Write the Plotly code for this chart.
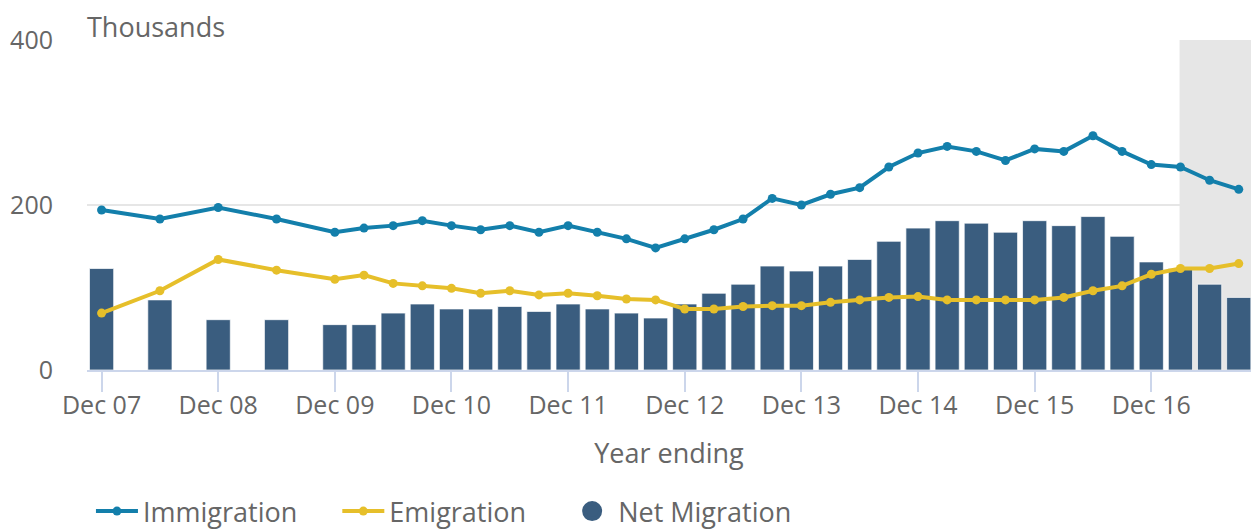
import plotly.graph_objects as go

# All quarters shown on the axis (year ending)
quarters = []
for yr in range(7, 18):
    for m in ["Mar", "Jun", "Sep", "Dec"]:
        if yr == 7 and m != "Dec":
            continue
        if yr == 17 and m == "Dec":
            continue
        quarters.append(f"{m} {yr:02d}")

periods = ["Dec 07", "Jun 08", "Dec 08", "Jun 09", "Dec 09",
           "Mar 10", "Jun 10", "Sep 10", "Dec 10",
           "Mar 11", "Jun 11", "Sep 11", "Dec 11",
           "Mar 12", "Jun 12", "Sep 12", "Dec 12",
           "Mar 13", "Jun 13", "Sep 13", "Dec 13",
           "Mar 14", "Jun 14", "Sep 14", "Dec 14",
           "Mar 15", "Jun 15", "Sep 15", "Dec 15",
           "Mar 16", "Jun 16", "Sep 16", "Dec 16",
           "Mar 17", "Jun 17", "Sep 17"]

immigration = [194, 183, 197, 183, 167,
               172, 175, 181, 175,
               170, 175, 167, 175,
               167, 159, 148, 159,
               170, 183, 208, 200,
               213, 221, 246, 263,
               271, 265, 254, 268,
               265, 284, 265, 249,
               246, 230, 219]

emigration = [69, 96, 134, 121, 110,
              115, 105, 102, 99,
              93, 96, 91, 93,
              90, 86, 85, 74,
              74, 77, 78, 78,
              82, 85, 88, 89,
              85, 85, 85, 85,
              88, 96, 102, 116,
              123, 123, 129]

net_migration = [123, 85, 61, 61, 55,
                 55, 69, 80, 74,
                 74, 77, 71, 80,
                 74, 69, 63, 80,
                 93, 104, 126, 120,
                 126, 134, 156, 172,
                 181, 178, 167, 181,
                 175, 186, 162, 131,
                 123, 104, 88]

tick_labels = ["Dec 07", "Dec 08", "Dec 09", "Dec 10", "Dec 11",
               "Dec 12", "Dec 13", "Dec 14", "Dec 15", "Dec 16"]
y_ticks = [0, 200, 400]

BLUE = "#137fab"
YELLOW = "#e6bf2a"
NAVY = "#3a5d7f"
TXT = "#666666"
FONT = "Open Sans"
PAD = "\u00a0" * 5  # spacing between legend items

fig = go.Figure()

fig.add_trace(go.Bar(
    x=periods, y=net_migration, name="Net Migration",
    marker=dict(color=NAVY, line=dict(color="rgba(255,255,255,0.7)", width=1)),
    showlegend=False,
))

fig.add_trace(go.Scatter(
    x=periods, y=immigration, name="Immigration" + PAD, mode="lines+markers",
    line=dict(color=BLUE, width=4), marker=dict(color=BLUE, size=9),
))

fig.add_trace(go.Scatter(
    x=periods, y=emigration, name="Emigration" + PAD, mode="lines+markers",
    line=dict(color=YELLOW, width=4), marker=dict(color=YELLOW, size=9),
))

# legend-only entry for the bars (circle symbol)
fig.add_trace(go.Scatter(
    x=[None], y=[None], name="Net Migration", mode="markers",
    marker=dict(color=NAVY, size=16, symbol="circle", line=dict(color=NAVY, width=4)),
))

fig.add_shape(type="rect", xref="x", yref="y", x0=36.97, x1=39.42, y0=0, y1=400,
              fillcolor="#e6e6e6", line=dict(width=0), layer="between")

fig.add_annotation(text="Thousands", xref="paper", yref="paper", x=-0.002, y=1.042,
                   xanchor="left", yanchor="middle", showarrow=False,
                   font=dict(family=FONT, size=27, color=TXT))

fig.update_layout(
    width=1251, height=531,
    margin=dict(l=87, r=0, t=40, b=161, autoexpand=False),
    paper_bgcolor="white", plot_bgcolor="white",
    font=dict(family=FONT, color=TXT),
    bargap=0.17,
    showlegend=True,
    legend=dict(orientation="h", x=0.0034, xanchor="left", y=-0.429, yanchor="middle",
                font=dict(family=FONT, size=27, color=TXT),
                itemwidth=42,
                bgcolor="rgba(0,0,0,0)"),
    xaxis=dict(
        type="category", categoryorder="array", categoryarray=quarters,
        range=[-0.5, 39.42],
        tickmode="array", tickvals=tick_labels, ticktext=tick_labels,
        ticks="outside", ticklen=20, tickwidth=1.5, tickcolor="#ccd6eb",
        ticklabelstandoff=-8,
        showline=True, linecolor="#ccd6eb", linewidth=1.5,
        showgrid=False, zeroline=False,
        tickfont=dict(family=FONT, size=25, color=TXT),
        title=dict(text="Year ending", font=dict(family=FONT, size=27, color=TXT), standoff=24),
    ),
    yaxis=dict(
        range=[0, 400], tickvals=y_ticks,
        showgrid=True, gridcolor="#e6e6e6", gridwidth=1.5,
        zeroline=False, ticks="", ticklabelstandoff=33,
        tickfont=dict(family=FONT, size=25, color=TXT),
    ),
)

fig.write_html(
    "out.html",
    config={"displayModeBar": False},
    post_script="document.body.style.margin='0';document.body.style.overflow='hidden';",
)
